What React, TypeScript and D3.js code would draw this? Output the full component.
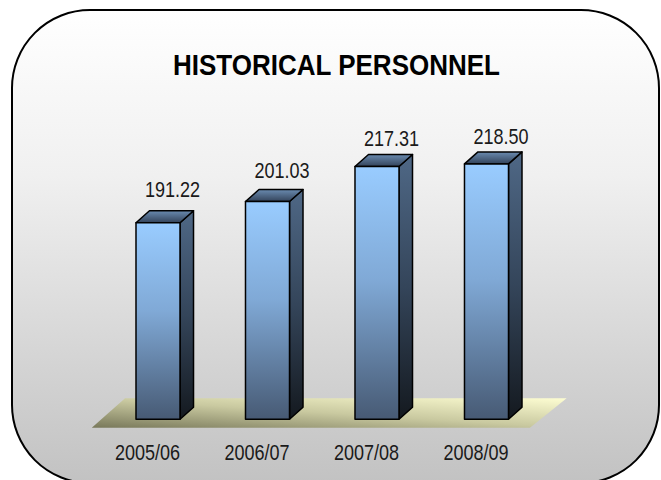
import React from "react";
import * as d3 from "d3";

const categories = ["2005/06", "2006/07", "2007/08", "2008/09"];
const values = [191.22, 201.03, 217.31, 218.5];
const valueLabels = ["191.22", "201.03", "217.31", "218.50"];
const title = "HISTORICAL PERSONNEL";

const W = 661;
const H = 480;
const FONT = "'Liberation Sans', Arial, sans-serif";
const NARROW = 0.82;

export default function App() {
  const x = d3
    .scaleBand<string>()
    .domain(categories)
    .range([81.25, 563.25])
    .paddingInner(0.598)
    .paddingOuter(0.5);
  const y = d3.scaleLinear().domain([100, 250]).range([419.3, 96]);
  // label baseline scale (perspective-ish placement)
  const yLabel = d3.scaleLinear().domain([100, 250]).range([375.5, 82.4]);

  const dx = 13.5;
  const dy = 12;
  const bw = x.bandwidth();
  const y0 = y(100);
  const [r0, r1] = x.range();

  const floor = [
    [r0 + 10.5, y0 + 8.4],
    [r1 - 33.3, y0 + 8.4],
    [r1 + 3.4, y0 - 21],
    [r0 + 43.8, y0 - 21],
  ];

  const label = (key: string, tx: number, ty: number, s: string) => (
    <g key={key} transform={`translate(${tx},${ty}) scale(${NARROW},1)`}>
      <text x={0} y={0} textAnchor="middle" fontFamily={FONT} fontSize={22} fill="#1a1a1a">
        {s}
      </text>
    </g>
  );

  return (
    <div style={{ position: "absolute", left: 0, top: 0 }}>
      <svg width={W} height={H} style={{ display: "block" }}>
        <defs>
          <linearGradient id="bg" x1="0" y1="0" x2="0" y2="1">
            <stop offset="0" stopColor="#ffffff" />
            <stop offset="0.35" stopColor="#f0f0f0" />
            <stop offset="1" stopColor="#c2c2c2" />
          </linearGradient>
          <linearGradient id="front" x1="0" y1="0" x2="0" y2="1">
            <stop offset="0" stopColor="#99ccff" />
            <stop offset="0.45" stopColor="#80a9d6" />
            <stop offset="1" stopColor="#475a74" />
          </linearGradient>
          <linearGradient id="side" x1="0" y1="0" x2="0" y2="1">
            <stop offset="0" stopColor="#4f6886" />
            <stop offset="0.5" stopColor="#34455a" />
            <stop offset="1" stopColor="#14191f" />
          </linearGradient>
          <linearGradient id="top" x1="0" y1="0" x2="0" y2="1">
            <stop offset="0" stopColor="#6a8bb0" />
            <stop offset="1" stopColor="#33435a" />
          </linearGradient>
          <linearGradient id="floor" x1="0" y1="1" x2="1" y2="0">
            <stop offset="0" stopColor="#78785a" />
            <stop offset="0.5" stopColor="#c9c9a0" />
            <stop offset="1" stopColor="#fdfdd2" />
          </linearGradient>
        </defs>
        <rect
          x={12}
          y={10}
          width={647}
          height={473}
          rx={78}
          ry={78}
          fill="url(#bg)"
          stroke="#000"
          strokeWidth={2}
        />
        <text
          x={336.5}
          y={75}
          textAnchor="middle"
          fontFamily={FONT}
          fontWeight="bold"
          fontSize={29}
          textLength={327}
          lengthAdjust="spacingAndGlyphs"
          fill="#000"
        >
          {title}
        </text>
        <polygon points={floor.map((p) => p.join(",")).join(" ")} fill="url(#floor)" />
        {categories.map((c, i) => {
          const xl = x(c)!;
          const xr = xl + bw;
          const yt = y(values[i]);
          const front = `M${xl},${yt}H${xr}V${y0}H${xl}Z`;
          const side = `M${xr},${yt}L${xr + dx},${yt - dy}V${y0 - dy}L${xr},${y0}Z`;
          const top = `M${xl},${yt}L${xl + dx},${yt - dy}H${xr + dx}L${xr},${yt}Z`;
          return (
            <g key={c}>
              <path d={side} fill="url(#side)" stroke="#000" strokeWidth={1.5} strokeLinejoin="round" />
              <path d={top} fill="url(#top)" stroke="#000" strokeWidth={1.5} strokeLinejoin="round" />
              <path d={front} fill="url(#front)" stroke="#000" strokeWidth={1.5} strokeLinejoin="round" />
              {label("v", xl + bw / 2 + 14.5, yLabel(values[i]), valueLabels[i])}
              {label("c", xl + bw / 2 - 10.5, 460, c)}
            </g>
          );
        })}
      </svg>
    </div>
  );
}
